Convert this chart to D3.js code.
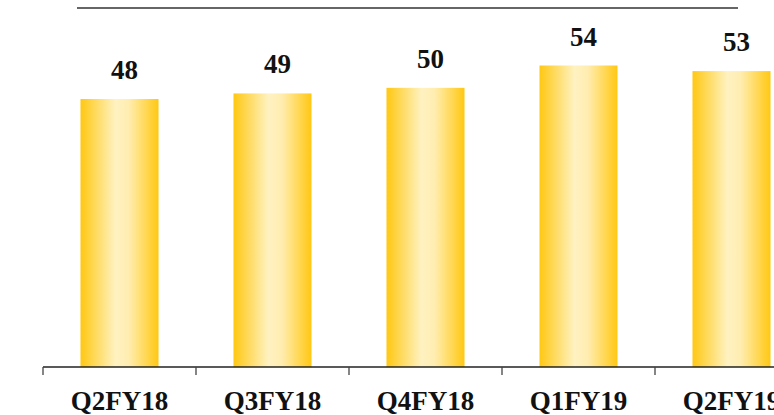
<!DOCTYPE html>
<html>
<head>
<meta charset="utf-8">
<script src="https://cdn.jsdelivr.net/npm/d3@7"></script>
<style>
  body { margin: 0; background: #fff; overflow: hidden; }
</style>
</head>
<body>
<svg id="chart"></svg>
<script>
const categories = ["Q2FY18", "Q3FY18", "Q4FY18", "Q1FY19", "Q2FY19"];
const values = [48, 49, 50, 54, 53];
const yMax = 64.3;

const width = 774;
const height = 415;
const baseY = 367;
const topY = 8;

const svg = d3.select("#chart").attr("width", width).attr("height", height);

const defs = svg.append("defs");
const gradient = defs
  .append("linearGradient")
  .attr("id", "barGradient")
  .attr("x1", "0%")
  .attr("x2", "100%")
  .attr("y1", "0%")
  .attr("y2", "0%");
gradient.append("stop").attr("offset", "0%").attr("stop-color", "#FFC812");
gradient.append("stop").attr("offset", "45%").attr("stop-color", "#FFF2C2");
gradient.append("stop").attr("offset", "62%").attr("stop-color", "#FFEDB0");
gradient.append("stop").attr("offset", "100%").attr("stop-color", "#FFC812");

const xScale = d3
  .scaleBand()
  .domain(categories)
  .range([43, 43 + 153 * categories.length])
  .paddingInner(0.49)
  .paddingOuter(0.245);

const yScale = d3.scaleLinear().domain([0, yMax]).range([baseY, topY]);

// top rule
svg.append("line")
  .attr("x1", 77)
  .attr("x2", 738)
  .attr("y1", yScale(yMax))
  .attr("y2", yScale(yMax))
  .attr("stroke", "#333")
  .attr("stroke-width", 1.5);

svg.selectAll(".bar")
  .data(values)
  .enter()
  .append("rect")
  .attr("class", "bar")
  .attr("x", (d, i) => xScale(categories[i]))
  .attr("y", (d) => yScale(d))
  .attr("width", xScale.bandwidth())
  .attr("height", (d) => yScale(0) - yScale(d))
  .attr("fill", "url(#barGradient)");

svg.selectAll(".label")
  .data(values)
  .enter()
  .append("text")
  .attr("class", "label")
  .attr("x", (d, i) => xScale(categories[i]) + xScale.bandwidth() / 2 + 5)
  .attr("y", (d) => yScale(d) - 20)
  .attr("text-anchor", "middle")
  .style("font-family", "'Liberation Serif', serif")
  .style("font-weight", "bold")
  .style("font-size", "27px")
  .style("fill", "#111")
  .text((d) => d);

// x axis with category boundary ticks
const step = 153;
const axis = svg.append("g");
axis.append("line")
  .attr("x1", 43)
  .attr("x2", width)
  .attr("y1", baseY)
  .attr("y2", baseY)
  .attr("stroke", "#222")
  .attr("stroke-width", 1.5);

axis.selectAll(".tick")
  .data(categories)
  .enter()
  .append("line")
  .attr("class", "tick")
  .attr("x1", (d) => xScale(d) - xScale.step() * xScale.paddingOuter())
  .attr("x2", (d) => xScale(d) - xScale.step() * xScale.paddingOuter())
  .attr("y1", baseY)
  .attr("y2", baseY + 8)
  .attr("stroke", "#444")
  .attr("stroke-width", 1.3);

axis.selectAll(".cat")
  .data(categories)
  .enter()
  .append("text")
  .attr("class", "cat")
  .attr("x", (d) => xScale(d) + xScale.bandwidth() / 2)
  .attr("y", 410)
  .attr("text-anchor", "middle")
  .style("font-family", "'Liberation Serif', serif")
  .style("font-weight", "bold")
  .style("font-size", "27px")
  .style("fill", "#111")
  .text((d) => d);
</script>
</body>
</html>
